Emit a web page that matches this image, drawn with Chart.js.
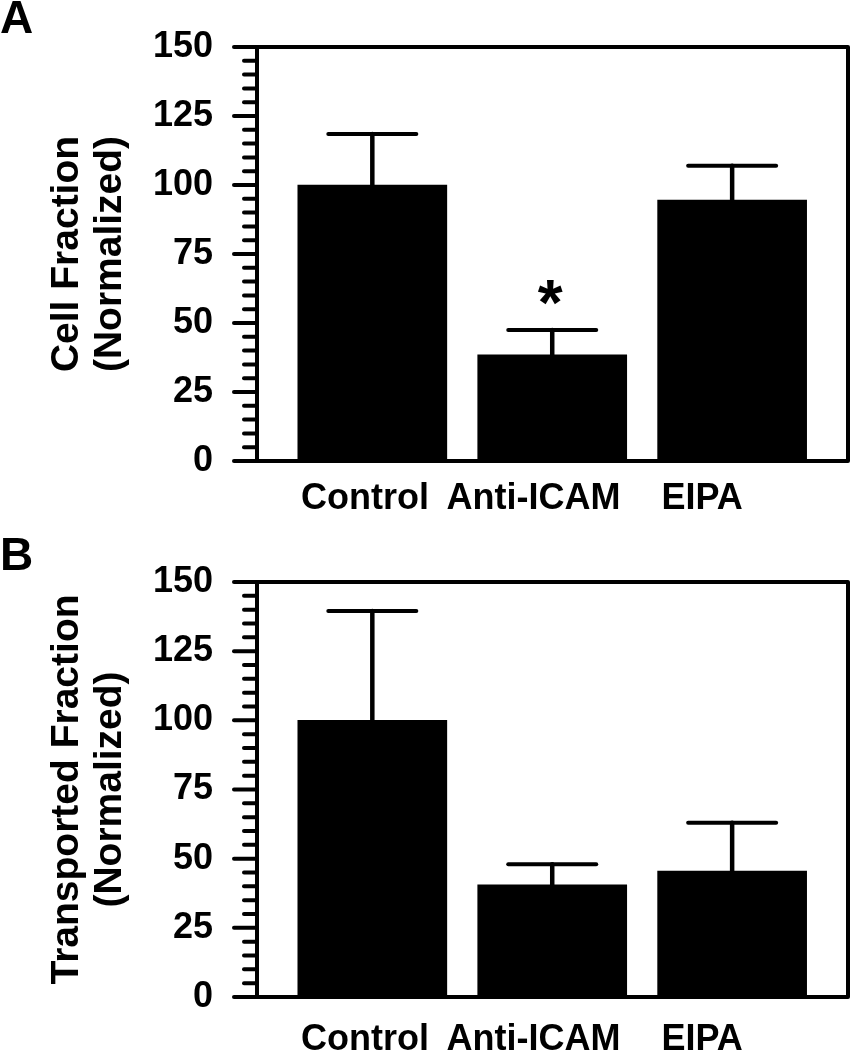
<!DOCTYPE html>
<html>
<head>
<meta charset="utf-8">
<script src="https://cdn.jsdelivr.net/npm/chart.js@4.4.0/dist/chart.umd.min.js"></script>
<style>
    html, body { margin: 0; padding: 0; background: #fff; overflow: hidden; }
    .painel { position: absolute; left: 0; width: 852px; height: 525px; }
    canvas { display: block; }
</style>
</head>
<body>
<div class="painel" style="top:0px"><canvas id="graficoA" width="852" height="525"></canvas></div>
<div class="painel" style="top:525px"><canvas id="graficoB" width="852" height="525"></canvas></div>
<script>
// dados
const categorias = ['Control', 'Anti-ICAM', 'EIPA'];

const celulaMedia = [100, 38.5, 94.5];
const celulaErro = [18.5, 9, 12.5];
const celulaSig = ['', '*', ''];

const transpMedia = [100, 40.5, 45.5];
const transpErro = [39.5, 7.5, 17.5];
const transpSig = ['', '', ''];

const yTickLabels = [0, 25, 50, 75, 100, 125, 150];
const yPassoMenor = 5;

const fonte = "'Liberation Sans', Arial, sans-serif";

function criarGrafico(idCanvas, letra, titulo, medias, erros, sig, layoutCfg) {

    const desenhos = {
        id: 'desenhos' + letra,
        afterDatasetsDraw(chart) {
            const ctx = chart.ctx;
            const y = chart.scales.y;
            const meta = chart.getDatasetMeta(0);
            ctx.save();
            ctx.strokeStyle = '#000';
            ctx.fillStyle = '#000';
            ctx.lineCap = 'round';
            meta.data.forEach(function (barra, i) {
                const topo = y.getPixelForValue(medias[i]);
                const ponta = y.getPixelForValue(medias[i] + erros[i]);
                // barra de erro (so para cima)
                ctx.lineWidth = 4.5;
                ctx.beginPath();
                ctx.moveTo(barra.x, topo);
                ctx.lineTo(barra.x, ponta);
                ctx.stroke();
                ctx.lineWidth = 4;
                ctx.beginPath();
                ctx.moveTo(barra.x - 44, ponta);
                ctx.lineTo(barra.x + 44, ponta);
                ctx.stroke();
                if (sig[i]) {
                    ctx.font = 'bold 64px ' + fonte;
                    ctx.textAlign = 'center';
                    ctx.textBaseline = 'alphabetic';
                    ctx.fillText(sig[i], barra.x - 2, ponta - 5);
                }
            });
            ctx.restore();
        },
        afterDraw(chart) {
            const ctx = chart.ctx;
            const a = chart.chartArea;
            const y = chart.scales.y;
            ctx.save();
            ctx.strokeStyle = '#000';
            ctx.lineWidth = 4;
            ctx.lineJoin = 'round';
            ctx.lineCap = 'round';
            ctx.strokeRect(a.left, a.top, a.right - a.left, a.bottom - a.top);
            // ticks maiores e menores
            y.ticks.forEach(function (t) {
                const py = y.getPixelForValue(t.value);
                const comp = yTickLabels.includes(t.value) ? 23 : 13;
                ctx.beginPath();
                ctx.moveTo(a.left - comp, py);
                ctx.lineTo(a.left, py);
                ctx.stroke();
            });
            ctx.font = 'bold 46px ' + fonte;
            ctx.fillStyle = '#000';
            ctx.textAlign = 'left';
            ctx.textBaseline = 'alphabetic';
            ctx.fillText(letra, 0, layoutCfg.letraY);
            ctx.restore();
        }
    };

    const config = {
        type: 'bar',
        data: {
            datasets: [{
                data: medias.map(function (v, i) { return { x: i + 1, y: v }; }),
                backgroundColor: '#000',
                borderWidth: 0,
                barThickness: 149,
                xAxisID: 'x',
                yAxisID: 'y'
            }]
        },
        options: {
            responsive: false,
            animation: false,
            layout: {
                padding: { top: layoutCfg.topo, right: 4, bottom: 0, left: 0 }
            },
            plugins: {
                legend: { display: false },
                tooltip: { enabled: false }
            },
            scales: {
                x: {
                    type: 'linear',
                    display: false,
                    min: 0.359,
                    max: 3.644,
                    offset: false
                },
                xl: {
                    type: 'linear',
                    position: 'bottom',
                    min: 0.359,
                    max: 3.866,
                    offset: false,
                    grid: { display: false, offset: false },
                    border: { display: false },
                    afterBuildTicks: function (s) {
                        s.ticks = categorias.map(function (c, i) { return { value: i + 1 }; });
                    },
                    afterFit: function (s) { s.height = layoutCfg.alturaX; },
                    ticks: {
                        autoSkip: false,
                        maxRotation: 0,
                        padding: layoutCfg.padX,
                        color: '#000',
                        font: { family: fonte, size: 36, weight: 'bold', lineHeight: 1.2 },
                        callback: function (v) { return categorias[Math.round(v) - 1]; }
                    }
                },
                y: {
                    min: 0,
                    max: 150,
                    grid: {
                        display: true,
                        drawOnChartArea: false,
                        drawTicks: true,
                        tickLength: 44,
                        tickColor: 'rgba(0,0,0,0)'
                    },
                    border: { display: false },
                    afterFit: function (s) { s.width = 257; },
                    ticks: {
                        stepSize: yPassoMenor,
                        autoSkip: false,
                        padding: 0,
                        color: '#000',
                        font: { family: fonte, size: 36, weight: 'bold', lineHeight: 1.2 },
                        callback: function (v) { return yTickLabels.includes(v) ? v : ''; }
                    },
                    title: {
                        display: true,
                        text: titulo,
                        color: '#000',
                        padding: { top: 46, bottom: 0 },
                        font: { family: fonte, size: 39, weight: 'bold', lineHeight: 1.1 }
                    }
                }
            }
        },
        plugins: [desenhos]
    };

    new Chart(document.getElementById(idCanvas), config);
}

criarGrafico('graficoA', 'A', ['Cell Fraction', '(Normalized)'],
    celulaMedia, celulaErro, celulaSig,
    { topo: 47, alturaX: 64, padX: 8, letraY: 33 });

criarGrafico('graficoB', 'B', ['Transported Fraction', '(Normalized)'],
    transpMedia, transpErro, transpSig,
    { topo: 57, alturaX: 53, padX: 13, letraY: 45 });
</script>
</body>
</html>
